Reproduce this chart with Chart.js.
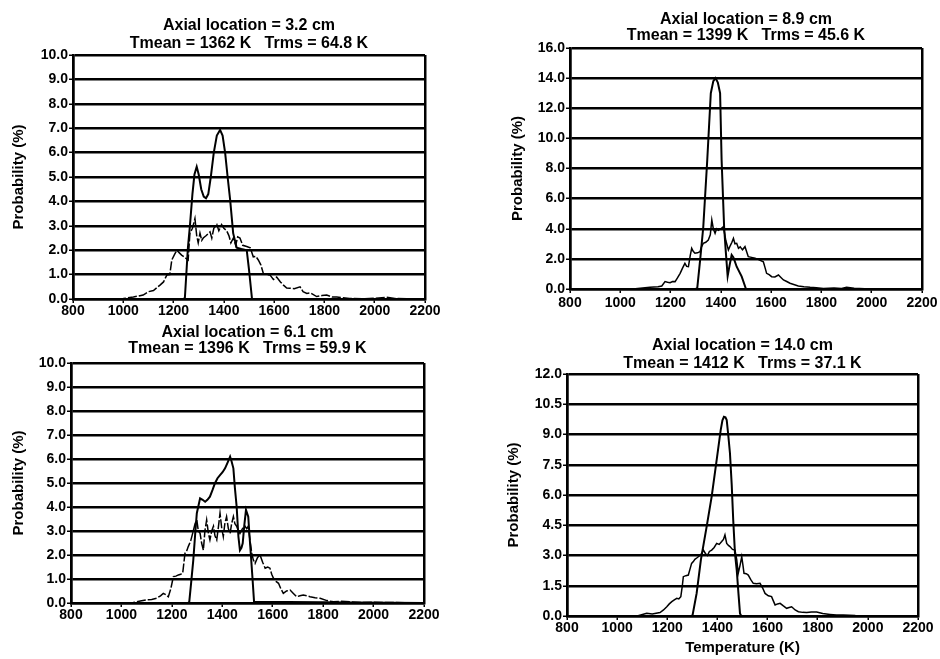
<!DOCTYPE html>
<html>
<head>
<meta charset="utf-8">
<script src="https://cdn.jsdelivr.net/npm/chart.js@4.4.1/dist/chart.umd.min.js"></script>
<style>
  html, body { margin: 0; padding: 0; background: #fff; }
  #page { position: relative; width: 940px; height: 659px; overflow: hidden; background: #fff; }
  canvas { position: absolute; }
</style>
</head>
<body>
<div id="page">
  <canvas id="c32"></canvas>
  <canvas id="c89"></canvas>
  <canvas id="c61"></canvas>
  <canvas id="c140"></canvas>
</div>
<script>
// Datos (temperatura en K, probabilidad en %)
const xTicks = [800, 1000, 1200, 1400, 1600, 1800, 2000, 2200];

const titles32  = ['Axial location = 3.2 cm', 'Tmean = 1362 K   Trms = 64.8 K'];
const titles89  = ['Axial location = 8.9 cm', 'Tmean = 1399 K   Trms = 45.6 K'];
const titles61  = ['Axial location = 6.1 cm', 'Tmean = 1396 K   Trms = 59.9 K'];
const titles140 = ['Axial location = 14.0 cm', 'Tmean = 1412 K   Trms = 37.1 K'];

const yMax  = { c32: 10, c89: 16, c61: 10, c140: 12 };
const yStep = { c32: 1,  c89: 2,  c61: 1,  c140: 1.5 };

// 3.2 cm
const t32Solid = [800, 1240, 1245, 1257, 1265, 1275, 1283, 1292, 1300, 1310, 1320, 1329, 1338, 1348, 1360, 1372, 1385, 1395, 1405, 1415, 1425, 1437, 1451, 1470, 1491, 1500, 1512, 2200];
const p32Solid = [0, 0, 0.05, 2.1, 3.0, 4.3, 5.1, 5.42, 5.1, 4.5, 4.2, 4.13, 4.3, 5.0, 6.0, 6.7, 6.93, 6.7, 6.0, 5.0, 4.06, 2.7, 2.1, 2.05, 2.0, 1.2, 0, 0];
const t32Noisy = [800, 950, 1000, 1040, 1079, 1100, 1120, 1146, 1160, 1173, 1185, 1193, 1205, 1213, 1222, 1232, 1245, 1258, 1265, 1275, 1285, 1292, 1298, 1305, 1312, 1318, 1330, 1345, 1352, 1360, 1372, 1380, 1391, 1400, 1411, 1420, 1428, 1438, 1447, 1455, 1464, 1475, 1491, 1505, 1517, 1527, 1537, 1547, 1557, 1570, 1584, 1597, 1610, 1625, 1637, 1650, 1663, 1680, 1703, 1715, 1730, 1745, 1769, 1790, 1809, 1830, 1849, 1900, 1950, 2000, 2047, 2080, 2200];
const p32Noisy = [0, 0, 0.02, 0.08, 0.16, 0.3, 0.35, 0.57, 0.7, 0.98, 1.0, 1.6, 1.85, 2.0, 1.9, 1.8, 1.7, 1.6, 2.7, 2.9, 3.3, 2.6, 2.3, 2.7, 2.4, 2.5, 2.6, 2.75, 2.5, 2.9, 3.05, 2.8, 3.05, 2.9, 2.8, 2.6, 2.3, 2.5, 2.2, 2.55, 2.5, 2.2, 2.15, 2.1, 1.73, 1.75, 1.6, 1.4, 1.05, 1.0, 0.98, 0.8, 0.9, 0.7, 0.57, 0.45, 0.44, 0.42, 0.5, 0.3, 0.23, 0.25, 0.1, 0.14, 0.16, 0.08, 0.08, 0.02, 0.01, 0.03, 0.07, 0.02, 0];

// 8.9 cm
const t89Solid = [800, 1300, 1306, 1318, 1330, 1346, 1360, 1370, 1379, 1388, 1397, 1403, 1413, 1420, 1427, 1435, 1443, 1450, 1463, 1483, 1500, 2200];
const p89Solid = [0, 0, 0.05, 2.0, 4.1, 8.6, 13.0, 13.8, 14.0, 13.7, 13.0, 8.56, 4.1, 2.4, 0.86, 1.6, 2.26, 2.1, 1.48, 0.82, 0, 0];
const t89Noisy = [800, 1050, 1118, 1150, 1165, 1178, 1188, 1198, 1208, 1218, 1228, 1238, 1248, 1257, 1264, 1271, 1278, 1284, 1290, 1297, 1307, 1317, 1323, 1330, 1340, 1350, 1358, 1364, 1370, 1377, 1383, 1390, 1400, 1410, 1420, 1430, 1438, 1444, 1450, 1456, 1463, 1470, 1477, 1486, 1496, 1509, 1522, 1536, 1550, 1569, 1576, 1582, 1592, 1602, 1615, 1629, 1640, 1649, 1662, 1675, 1690, 1708, 1730, 1755, 1780, 1808, 1850, 1880, 1900, 1930, 1993, 2200];
const p89Noisy = [0, 0, 0.11, 0.15, 0.2, 0.49, 0.45, 0.42, 0.5, 0.49, 0.75, 1.04, 1.4, 1.7, 1.5, 1.48, 2.2, 2.7, 2.5, 2.37, 2.4, 2.48, 2.8, 3.03, 3.1, 3.25, 3.6, 4.58, 4.0, 3.7, 4.0, 3.9, 4.0, 4.14, 3.2, 2.59, 2.9, 3.1, 3.36, 3.0, 3.03, 2.7, 2.8, 2.6, 2.81, 2.15, 2.1, 2.04, 1.95, 1.81, 1.4, 1.04, 0.95, 0.82, 0.8, 0.93, 0.75, 0.6, 0.5, 0.38, 0.3, 0.2, 0.15, 0.11, 0.08, 0.04, 0.06, 0.04, 0.11, 0.05, 0, 0];

// 6.1 cm
const t61Solid = [800, 1265, 1269, 1277, 1285, 1292, 1299, 1312, 1322, 1332, 1341, 1351, 1361, 1371, 1381, 1391, 1401, 1411, 1421, 1431, 1437, 1444, 1450, 1457, 1464, 1470, 1476, 1481, 1487, 1494, 1503, 1508, 1513, 1520, 1526, 2200];
const p61Solid = [0, 0, 0.05, 0.9, 1.79, 2.8, 3.74, 4.36, 4.3, 4.22, 4.3, 4.43, 4.7, 4.99, 5.2, 5.33, 5.45, 5.61, 5.85, 6.1, 5.9, 5.61, 4.8, 4.01, 2.76, 2.2, 2.3, 2.49, 3.2, 3.88, 3.6, 2.8, 2.07, 1.0, 0.05, 0];
const t61Noisy = [800, 1000, 1047, 1075, 1100, 1120, 1140, 1155, 1166, 1176, 1186, 1196, 1206, 1216, 1226, 1235, 1243, 1252, 1260, 1265, 1275, 1285, 1292, 1299, 1305, 1312, 1318, 1325, 1331, 1338, 1345, 1351, 1358, 1365, 1371, 1378, 1385, 1391, 1398, 1404, 1410, 1417, 1424, 1431, 1437, 1444, 1450, 1457, 1464, 1470, 1480, 1490, 1497, 1503, 1510, 1517, 1523, 1530, 1540, 1550, 1560, 1570, 1580, 1589, 1596, 1603, 1613, 1623, 1632, 1642, 1655, 1669, 1682, 1695, 1708, 1721, 1735, 1748, 1768, 1788, 1815, 1841, 1870, 1907, 1950, 2000, 2200];
const p61Noisy = [0, 0, 0.02, 0.08, 0.13, 0.15, 0.2, 0.3, 0.4, 0.35, 0.26, 0.6, 1.1, 1.12, 1.17, 1.2, 1.24, 2.07, 2.2, 2.35, 2.6, 3.0, 3.3, 3.46, 3.0, 2.9, 2.5, 2.2, 3.0, 3.46, 2.9, 2.63, 3.0, 3.2, 2.8, 2.63, 3.2, 3.74, 3.1, 2.77, 3.3, 3.6, 3.1, 2.9, 3.3, 3.6, 3.3, 3.2, 3.0, 2.9, 3.1, 3.2, 3.1, 3.2, 2.6, 2.07, 1.8, 1.65, 1.9, 2.0, 1.7, 1.45, 1.5, 1.45, 1.2, 1.03, 0.9, 0.82, 0.6, 0.4, 0.5, 0.54, 0.4, 0.26, 0.3, 0.33, 0.3, 0.26, 0.22, 0.2, 0.1, 0.05, 0.07, 0.05, 0.02, 0.03, 0];

// 14.0 cm
const t140Solid = [800, 1296, 1301, 1317, 1334, 1357, 1377, 1397, 1413, 1420, 1426, 1432, 1437, 1443, 1450, 1457, 1463, 1470, 1477, 1484, 1490, 1495, 2200];
const p140Solid = [0, 0, 0.05, 1.12, 2.78, 4.43, 5.92, 7.74, 9.22, 9.7, 9.88, 9.85, 9.72, 9.0, 8.07, 6.5, 4.76, 3.1, 2.28, 1.1, 0.13, 0, 0];
const t140Noisy = [800, 1080, 1118, 1140, 1171, 1185, 1198, 1208, 1218, 1228, 1238, 1246, 1254, 1260, 1264, 1274, 1284, 1290, 1297, 1304, 1310, 1320, 1330, 1337, 1344, 1352, 1360, 1368, 1377, 1387, 1397, 1407, 1417, 1424, 1430, 1437, 1444, 1450, 1460, 1470, 1477, 1483, 1490, 1497, 1502, 1506, 1515, 1523, 1533, 1543, 1556, 1570, 1580, 1590, 1603, 1616, 1623, 1630, 1640, 1650, 1663, 1676, 1686, 1696, 1710, 1723, 1740, 1756, 1775, 1796, 1820, 1849, 1875, 1902, 1950, 2200];
const p140Noisy = [0, 0, 0.13, 0.1, 0.17, 0.3, 0.46, 0.6, 0.71, 0.8, 0.88, 0.85, 0.96, 1.5, 1.95, 2.0, 2.03, 2.3, 2.61, 2.7, 2.81, 2.9, 3.0, 3.1, 3.27, 3.1, 3.0, 3.2, 3.27, 3.4, 3.6, 3.55, 3.69, 3.8, 4.02, 3.6, 3.5, 3.44, 3.3, 3.27, 2.8, 2.12, 2.5, 2.94, 2.5, 2.12, 2.1, 2.03, 1.8, 1.62, 1.6, 1.62, 1.4, 1.12, 1.0, 0.96, 0.75, 0.55, 0.6, 0.63, 0.5, 0.38, 0.42, 0.46, 0.3, 0.21, 0.18, 0.17, 0.2, 0.2, 0.12, 0.08, 0.05, 0.05, 0.02, 0];

const FONT = '"Liberation Sans", Arial, sans-serif';
const pts = (ts, ps) => ts.map((t, i) => ({ x: t, y: ps[i] }));

// Caja de cada panel: área de trazado en px de la ventana
function makePanel(id, cfg) {
  const el = document.getElementById(id);
  const areaW = cfg.r - cfg.l, areaH = cfg.b - cfg.t;
  const yW = cfg.l - cfg.left;
  const titleH = cfg.t - cfg.top;
  const padR = 22;
  el.width = yW + areaW + padR;
  el.height = titleH + areaH + cfg.xH;
  el.style.left = cfg.left + 'px';
  el.style.top = cfg.top + 'px';

  return new Chart(el, {
    type: 'line',
    data: {
      datasets: [
        { data: pts(cfg.ts, cfg.ps), borderColor: '#000', borderWidth: 2, pointRadius: 0, tension: 0, fill: false },
        { data: pts(cfg.tn, cfg.pn), borderColor: '#000', borderWidth: 1.5, pointRadius: 0, tension: 0, fill: false,
          borderDash: cfg.dash ? [9, 2] : [] }
      ]
    },
    options: {
      responsive: false, animation: false,
      layout: { padding: { left: 0, top: 0, right: padR, bottom: 0 } },
      plugins: {
        legend: { display: false },
        tooltip: { enabled: false },
        title: {
          display: true, text: cfg.title, color: '#000', fullSize: false,
          font: { family: FONT, size: 16, weight: 'bold', lineHeight: cfg.titleLH + 'px' },
          padding: { top: 0, bottom: titleH - 2 * cfg.titleLH }
        }
      },
      scales: {
        x: {
          type: 'linear', min: 800, max: 2200,
          afterFit: s => { s.height = cfg.xH; },
          afterBuildTicks: s => { s.ticks = xTicks.map(v => ({ value: v })); },
          ticks: { color: '#000', padding: cfg.xPad, maxRotation: 0, autoSkip: false,
                   font: { family: FONT, size: 14, weight: 'bold' }, callback: v => String(v) },
          grid: {
            color: c => (c.tick && (c.tick.value === 800 || c.tick.value === 2200)) ? '#000' : 'rgba(0,0,0,0)',
            lineWidth: 2.5, tickColor: '#000', tickLength: 4, tickWidth: 1.5
          },
          border: { display: true, color: '#000', width: 2.5 },
          title: cfg.xTitle ? { display: true, text: cfg.xTitle, color: '#000', padding: 0,
                   font: { family: FONT, size: 15, weight: 'bold' } } : { display: false }
        },
        y: {
          min: 0, max: yMax[id],
          afterFit: s => { s.width = yW; },
          ticks: { stepSize: yStep[id], color: '#000', padding: 1,
                   font: { family: FONT, size: 14, weight: 'bold' }, callback: v => Number(v).toFixed(1) },
          grid: { color: '#000', lineWidth: 2.5, tickColor: '#000', tickLength: 4, tickWidth: 1.5 },
          border: { display: true, color: '#000', width: 2.5 },
          title: { display: true, text: 'Probability (%)', color: '#000', padding: 0,
                   font: { family: FONT, size: 15, weight: 'bold' } }
        }
      }
    }
  });
}

makePanel('c32',  { left: 10,  top: 17,  l: 73,  t: 55,  r: 425, b: 299, xH: 24, xPad: 0, titleLH: 17.5,
  title: titles32, ts: t32Solid, ps: p32Solid, tn: t32Noisy, pn: p32Noisy, dash: true });
makePanel('c89',  { left: 509, top: 12,  l: 570, t: 48,  r: 922, b: 289, xH: 26, xPad: 2, titleLH: 16,
  title: titles89, ts: t89Solid, ps: p89Solid, tn: t89Noisy, pn: p89Noisy, dash: false });
makePanel('c61',  { left: 10,  top: 324, l: 71,  t: 363, r: 424, b: 603, xH: 24, xPad: 0, titleLH: 16.7,
  title: titles61, ts: t61Solid, ps: p61Solid, tn: t61Noisy, pn: p61Noisy, dash: true });
makePanel('c140', { left: 505, top: 337, l: 567, t: 374, r: 918, b: 616, xH: 41, xPad: 0, titleLH: 17.5,
  title: titles140, ts: t140Solid, ps: p140Solid, tn: t140Noisy, pn: p140Noisy, dash: false, xTitle: 'Temperature (K)' });
</script>
</body>
</html>
